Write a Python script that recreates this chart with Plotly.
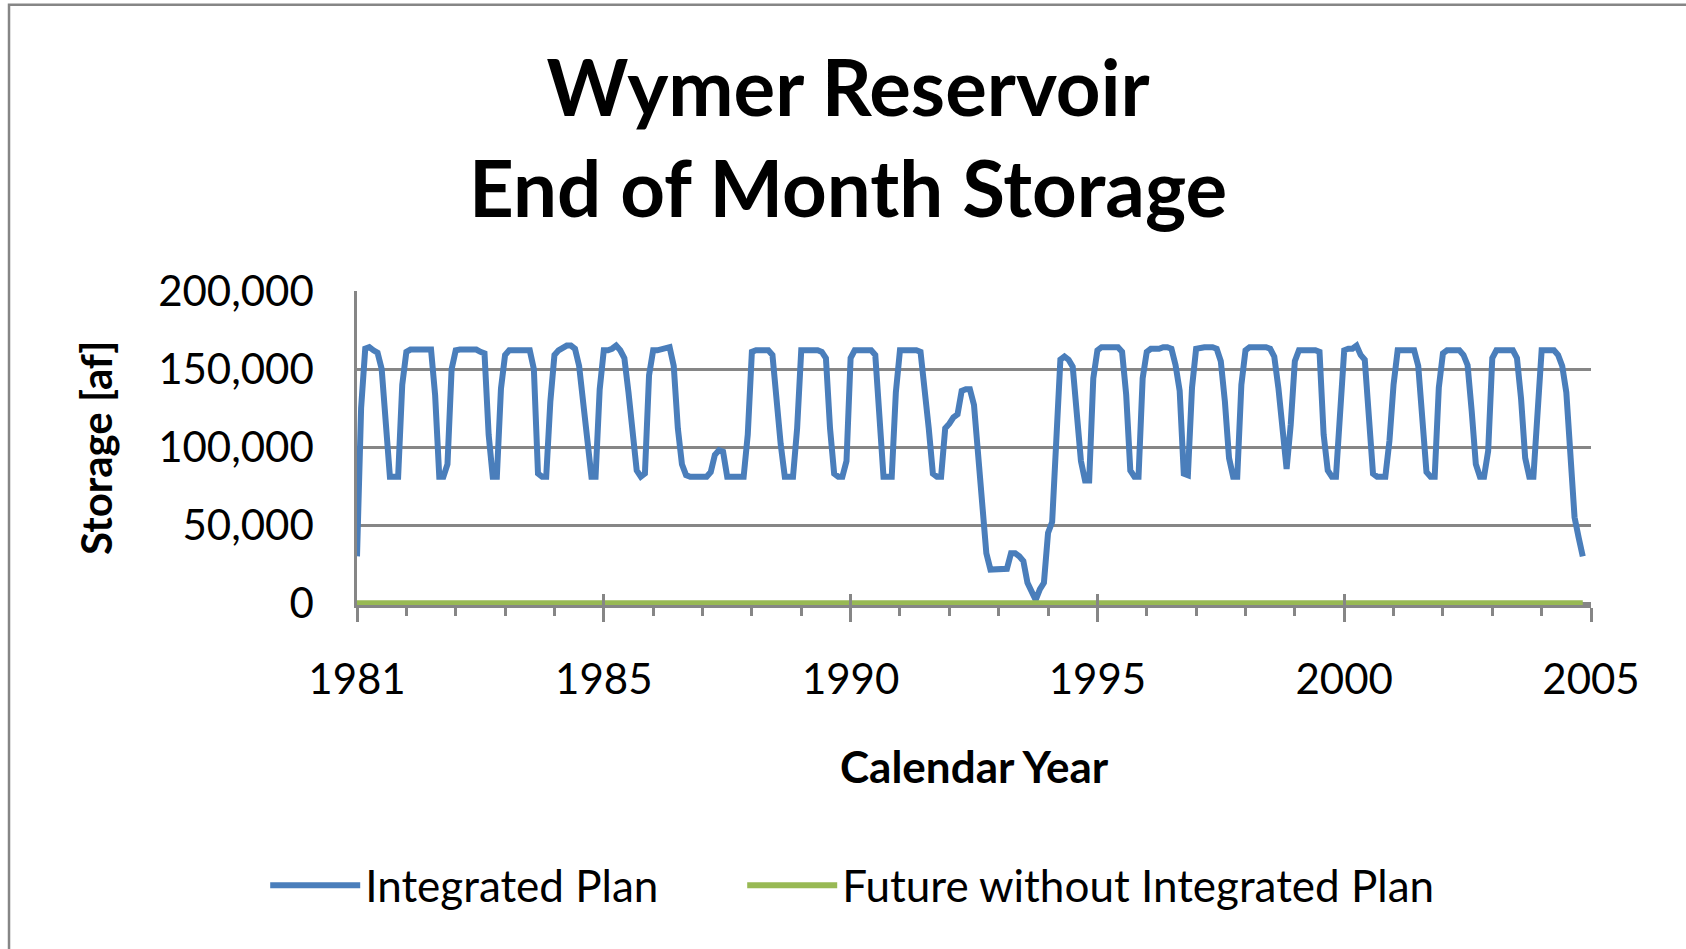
import plotly.graph_objects as go

# Wymer Reservoir end of month storage [af], one row per year
integrated_plan = [
    30000, 125000, 163000, 164000, 162000, 160500, 150000, 115000, 81000, 81000, 81000, 140000,
    161000, 162500, 162500, 162500, 162500, 162500, 162500, 133000, 81000, 81000, 89000, 150000,
    162000, 162500, 162500, 162500, 162500, 162500, 161000, 160000, 108000, 81000, 81000, 137500,
    159000, 162000, 162000, 162000, 162000, 162000, 162000, 150000, 83000, 81000, 81000, 129000,
    159000, 162000, 164000, 165000, 165000, 163000, 152000, 128000, 103000, 81000, 81000, 137000,
    162000, 162000, 163000, 165000, 162000, 157000, 135000, 112000, 85000, 81000, 83000, 146000,
    162000, 162000, 163000, 164000, 164000, 152000, 112000, 89000, 82000, 81000, 81000, 81000,
    81000, 81000, 84000, 95000, 98000, 97000, 81000, 81000, 81000, 81000, 81000, 108000,
    161000, 162000, 162000, 162000, 162000, 159000, 129000, 102000, 81000, 81000, 81000, 112000,
    162000, 162000, 162000, 162000, 162000, 161000, 157000, 112000, 83000, 81000, 81000, 91000,
    157000, 162000, 162000, 162000, 162000, 162000, 159000, 119000, 81000, 81000, 81000, 135000,
    162000, 162000, 162000, 162000, 162000, 161000, 140000, 112000, 83000, 81000, 81000, 112000,
    115000, 119000, 121000, 136000, 137000, 137000, 127000, 91000, 57000, 32000, 21500, 21500,
    21500, 21500, 22000, 32000, 32000, 30000, 27000, 13000, 6600, 2000, 8800, 13000,
    45000, 52000, 104000, 156000, 158000, 156000, 151500, 123000, 91000, 78500, 78500, 144000,
    162000, 164000, 164000, 164000, 164000, 164000, 161000, 133500, 85000, 81000, 81000, 144000,
    161000, 163000, 163000, 163000, 164000, 164000, 163000, 152500, 136000, 83000, 82000, 138000,
    163000, 164000, 164000, 164000, 164000, 163000, 155000, 129000, 93000, 81000, 81000, 140000,
    162000, 164000, 164000, 164000, 164000, 164000, 163000, 158000, 138000, 110000, 86000, 114500,
    155000, 162000, 162000, 162000, 162000, 162000, 161000, 108000, 85000, 81000, 81000, 127000,
    162000, 163000, 163000, 165000, 159000, 156000, 124000, 83000, 81000, 81000, 81000, 104000,
    140000, 162000, 162000, 162000, 162000, 162000, 152000, 117000, 84000, 81000, 81000, 138000,
    160000, 162000, 162000, 162000, 162000, 159000, 152500, 123000, 89000, 81000, 81000, 97500,
    157000, 162000, 162000, 162000, 162000, 162000, 157000, 131000, 93000, 81000, 81000, 119000,
    162000, 162000, 162000, 162000, 159000, 152000, 135000, 93000, 55000, 42000, 30000,
]

# reservoir is not built without the plan
future_without_plan = [
    0, 0, 0, 0, 0, 0, 0, 0, 0, 0, 0, 0,
    0, 0, 0, 0, 0, 0, 0, 0, 0, 0, 0, 0,
    0, 0, 0, 0, 0, 0, 0, 0, 0, 0, 0, 0,
    0, 0, 0, 0, 0, 0, 0, 0, 0, 0, 0, 0,
    0, 0, 0, 0, 0, 0, 0, 0, 0, 0, 0, 0,
    0, 0, 0, 0, 0, 0, 0, 0, 0, 0, 0, 0,
    0, 0, 0, 0, 0, 0, 0, 0, 0, 0, 0, 0,
    0, 0, 0, 0, 0, 0, 0, 0, 0, 0, 0, 0,
    0, 0, 0, 0, 0, 0, 0, 0, 0, 0, 0, 0,
    0, 0, 0, 0, 0, 0, 0, 0, 0, 0, 0, 0,
    0, 0, 0, 0, 0, 0, 0, 0, 0, 0, 0, 0,
    0, 0, 0, 0, 0, 0, 0, 0, 0, 0, 0, 0,
    0, 0, 0, 0, 0, 0, 0, 0, 0, 0, 0, 0,
    0, 0, 0, 0, 0, 0, 0, 0, 0, 0, 0, 0,
    0, 0, 0, 0, 0, 0, 0, 0, 0, 0, 0, 0,
    0, 0, 0, 0, 0, 0, 0, 0, 0, 0, 0, 0,
    0, 0, 0, 0, 0, 0, 0, 0, 0, 0, 0, 0,
    0, 0, 0, 0, 0, 0, 0, 0, 0, 0, 0, 0,
    0, 0, 0, 0, 0, 0, 0, 0, 0, 0, 0, 0,
    0, 0, 0, 0, 0, 0, 0, 0, 0, 0, 0, 0,
    0, 0, 0, 0, 0, 0, 0, 0, 0, 0, 0, 0,
    0, 0, 0, 0, 0, 0, 0, 0, 0, 0, 0, 0,
    0, 0, 0, 0, 0, 0, 0, 0, 0, 0, 0, 0,
    0, 0, 0, 0, 0, 0, 0, 0, 0, 0, 0, 0,
    0, 0, 0, 0, 0, 0, 0, 0, 0, 0, 0,
]

months = list(range(len(integrated_plan)))  # month index on the category axis

year_tick_pos = [0, 60, 120, 180, 240, 300]
year_tick_text = ["1981", "1985", "1990", "1995", "2000", "2005"]
storage_ticks = [0, 50000, 100000, 150000, 200000]

GRAY = "#868686"
FONT = "Lato"
PAD = "\u00a0" * 7  # spacing between the two legend entries

fig = go.Figure()
fig.add_trace(go.Scatter(x=months, y=integrated_plan, mode="lines",
                         name="Integrated Plan" + PAD,
                         line=dict(color="#4A7EBB", width=6)))
fig.add_trace(go.Scatter(x=months, y=future_without_plan, mode="lines",
                         name="Future without Integrated Plan",
                         line=dict(color="#98B954", width=6), xaxis="x2"))

fig.update_layout(
    width=1686, height=949, autosize=False,
    margin=dict(l=357, r=95, t=291, b=344, pad=0),
    paper_bgcolor="white", plot_bgcolor="white",
    font=dict(family=FONT, size=42, color="black"),
    title=dict(text="<b>Wymer Reservoir<br>End of Month Storage</b>",
               font=dict(family=FONT, size=78, color="black"),
               x=0.503, xanchor="center", y=0.878, yanchor="top"),
    xaxis=dict(range=[0, 300], tickvals=year_tick_pos, ticktext=year_tick_text,
               ticks="outside", ticklen=14, tickwidth=2.5, tickcolor=GRAY,
               minor=dict(dtick=12, tick0=0, ticks="outside", ticklen=8,
                          tickwidth=2.5, tickcolor=GRAY, showgrid=False),
               showline=True, linecolor=GRAY, linewidth=2.5,
               showgrid=False, zeroline=False, ticklabelstandoff=22),
    xaxis2=dict(range=[0, 300], overlaying="x", anchor="y", side="bottom",
                tickvals=year_tick_pos, showticklabels=False,
                ticks="inside", ticklen=11, tickwidth=2.5, tickcolor=GRAY,
                showline=False, showgrid=False, zeroline=False),
    yaxis=dict(range=[-1200, 200000], tickvals=storage_ticks, tickformat=",",
               showgrid=True, gridcolor=GRAY, gridwidth=2.5,
               showline=True, linecolor=GRAY, linewidth=2.5,
               zeroline=False, ticks="", ticklabelstandoff=32),
    legend=dict(orientation="h", x=0.4013, xanchor="center", y=-0.894, yanchor="middle",
                font=dict(family=FONT, size=44), itemwidth=90,
                bgcolor="rgba(0,0,0,0)"),
    annotations=[
        dict(text="<b>Storage [af]</b>", xref="paper", yref="paper", x=-0.2116, y=0.5,
             textangle=-90, showarrow=False, font=dict(family=FONT, size=42),
             xanchor="center", yanchor="middle"),
        dict(text="<b>Calendar Year</b>", xref="paper", yref="paper", x=0.5, y=-0.512,
             showarrow=False, font=dict(family=FONT, size=44),
             xanchor="center", yanchor="middle"),
    ],
    shapes=[
        dict(type="rect", xref="paper", yref="paper", x0=-0.282, x1=2.0, y0=-3.0, y1=1.912,
             line=dict(color=GRAY, width=2.5), fillcolor="rgba(0,0,0,0)", layer="below"),
    ],
)

# drop the browser's default page margin so the figure sits at the window corner
fig.write_html("out.html", config={"displayModeBar": False},
               post_script="document.body.style.margin='0';")
